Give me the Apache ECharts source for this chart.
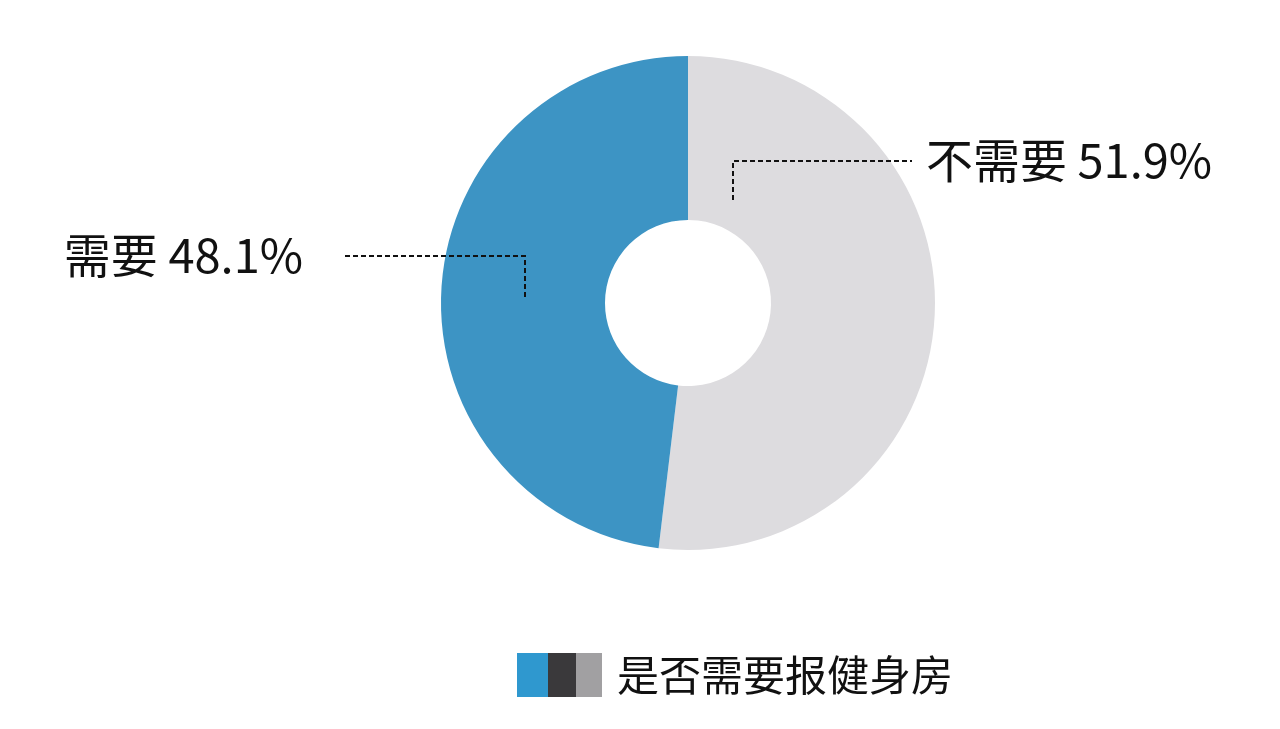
<!DOCTYPE html>
<html>
<head>
<meta charset="utf-8">
<script src="https://cdn.jsdelivr.net/npm/echarts@6/dist/echarts.min.js"></script>
<style>
html,body{margin:0;padding:0;background:#fff;}
#chart{width:1280px;height:729px;}
</style>
</head>
<body>
<div id="chart"></div>
<script>
const seriesName = '是否需要报健身房';
const categories = ['不需要', '需要'];
const values = [51.9, 48.1];
const sliceColors = ['#dddcdf', '#3d94c4'];

const CX = 688, CY = 303;
const FONT = '"Noto Sans CJK SC", "Noto Sans", sans-serif';

const iconSvg = '<svg xmlns="http://www.w3.org/2000/svg" width="85" height="44">' +
  '<rect x="0" y="0" width="31" height="44" fill="#2f98cf"/>' +
  '<rect x="31" y="0" width="28" height="44" fill="#3a393b"/>' +
  '<rect x="59" y="0" width="26" height="44" fill="#a1a0a2"/>' +
  '</svg>';
const iconUri = 'image://data:image/svg+xml;charset=utf-8,' + encodeURIComponent(iconSvg);

const pieData = categories.map((c, i) => ({ name: c, value: values[i], itemStyle: { color: sliceColors[i] } }));

const chart = echarts.init(document.getElementById('chart'));
chart.setOption({
  backgroundColor: '#ffffff',
  animation: false,
  legend: {
    data: [seriesName],
    left: 517,
    top: 653,
    padding: 0,
    itemWidth: 85,
    itemHeight: 44,
    itemGap: 0,
    icon: iconUri,
    textStyle: { fontSize: 42, color: '#111', fontFamily: FONT, padding: [0, 0, 0, 10] },
    selectedMode: false
  },
  series: [{
    name: seriesName,
    type: 'pie',
    center: [CX, CY],
    radius: [83, 247],
    startAngle: 90,
    clockwise: true,
    data: pieData,
    label: { show: false },
    labelLine: { show: false },
    emphasis: { disabled: true }
  }, {
    name: 'labels',
    type: 'pie',
    z: 5,
    silent: true,
    center: [CX, CY],
    radius: [83, 247],
    startAngle: 90,
    clockwise: true,
    avoidLabelOverlap: false,
    data: categories.map((c, i) => ({ name: c, value: values[i] })),
    itemStyle: { color: 'rgba(0,0,0,0)' },
    label: {
      show: true,
      position: 'outside',
      formatter: '{b} {d}%',
      fontSize: 47,
      color: '#111',
      fontFamily: FONT
    },
    labelLine: {
      show: true,
      smooth: false,
      lineStyle: { color: '#111', width: 2, type: [5, 3] }
    },
    emphasis: { disabled: true },
    labelLayout: function (p) {
      if (p.dataIndex === 0) {
        return {
          x: CX + 238, y: CY - 143, align: 'left', verticalAlign: 'middle',
          labelLinePoints: [[CX + 45, CY - 103], [CX + 45, CY - 142], [CX + 224, CY - 142]]
        };
      }
      return {
        x: CX - 385, y: CY - 48, align: 'right', verticalAlign: 'middle',
        labelLinePoints: [[CX - 163, CY - 6], [CX - 163, CY - 47], [CX - 346, CY - 47]]
      };
    }
  }]
});
</script>
</body>
</html>
